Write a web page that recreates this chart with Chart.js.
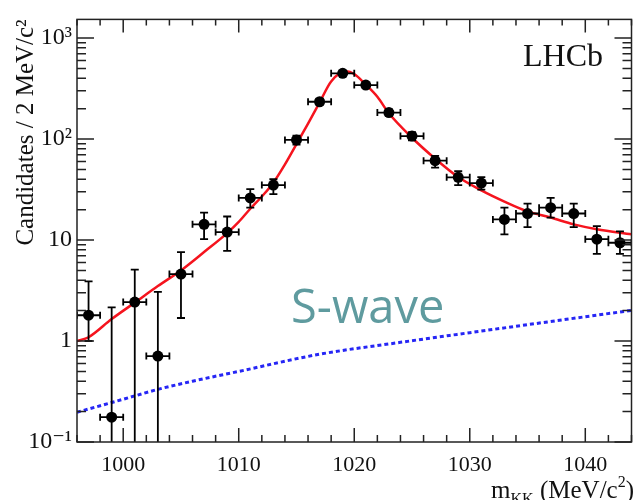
<!DOCTYPE html>
<html lang="en">
<head>
<meta charset="UTF-8">
<title>m_KK fit - LHCb</title>
<script src="https://cdn.jsdelivr.net/npm/chart.js"></script>
<style>
  html, body { margin: 0; padding: 0; background: #fff; }
  #wrap { width: 637px; height: 500px; }
</style>
</head>
<body>
<div id="wrap"><canvas id="mkkChart" width="637" height="500"></canvas></div>
<script>
// data points: bin centres (MeV/c^2), counts and error bar ends
const binCenters = [997, 999, 1001, 1003, 1005, 1007, 1009, 1011, 1013, 1015, 1017, 1019,
                    1021, 1023, 1025, 1027, 1029, 1031, 1033, 1035, 1037, 1039, 1041, 1043];
const counts     = [1.8, 0.176, 2.43, 0.71, 4.6, 14.3, 12.0, 26.1, 35, 98, 234, 447,
                    342, 183, 107, 61, 41.8, 36.6, 16, 18.3, 20.9, 18.3, 10.2, 9.4];
const countLow   = [1.0, 0.01, 0.01, 0.01, 1.69, 10.2, 7.8, 20.9, 28.5, 88, 219, 426,
                    324, 170, 97, 52, 35, 31.5, 11.4, 13.4, 16.7, 13.4, 7.3, 7.3];
const countHigh  = [3.9, 2.15, 5.1, 3.06, 7.6, 18.7, 17.1, 31.9, 40, 108, 249, 468,
                    360, 196, 117, 68, 48, 42, 20.9, 22.9, 26.1, 22.9, 13.7, 12.2];
const binHalfWidth = 1;

// total fit (red curve)
const fitMass  = [996, 997, 999, 1001, 1003, 1005, 1007, 1009, 1010, 1011, 1012, 1013, 1014,
                  1015, 1016, 1017, 1018, 1019.3, 1020, 1021, 1022, 1023, 1025, 1027, 1029,
                  1031, 1033, 1035, 1037, 1039, 1041, 1044];
const fitValue = [1.0, 1.09, 1.65, 2.4, 3.5, 5.0, 7.6, 11.7, 15.1, 20.4, 27, 37, 56,
                  89, 142, 230, 372, 468, 440, 345, 262, 180, 103, 64, 42,
                  31, 24, 19.2, 16.7, 14.3, 12.8, 11.4];

// S-wave component (blue dotted)
const swaveMass  = [996, 1000, 1003, 1006, 1010, 1017, 1024, 1030, 1037, 1044];
const swaveValue = [0.197, 0.265, 0.332, 0.40, 0.50, 0.74, 0.97, 1.21, 1.56, 2.01];

// axis ticks
const xTicks = [1000, 1010, 1020, 1030, 1040];
const yTicks = [0.1, 1, 10, 100, 1000];
const yTickLabels = ['10\u207B\u00B9', '1', '10', '10\u00B2', '10\u00B3'];

const serif = '"Liberation Serif", "DejaVu Serif", serif';

// error bars (vertical + horizontal with caps)
const errorBars = {
  id: 'errorBars',
  afterDatasetsDraw(chart) {
    const { ctx, chartArea: a, scales: { x, y } } = chart;
    ctx.save();
    ctx.beginPath();
    ctx.rect(a.left, a.top, a.right - a.left, a.bottom - a.top);
    ctx.clip();
    ctx.strokeStyle = '#000';
    ctx.lineWidth = 1.8;
    ctx.beginPath();
    binCenters.forEach((m, i) => {
      const px = x.getPixelForValue(m);
      const py = y.getPixelForValue(counts[i]);
      const yLo = y.getPixelForValue(countLow[i]);
      const yHi = y.getPixelForValue(countHigh[i]);
      const xL = x.getPixelForValue(m - binHalfWidth);
      const xR = x.getPixelForValue(m + binHalfWidth);
      ctx.moveTo(px, yLo); ctx.lineTo(px, yHi);
      ctx.moveTo(px - 4, yHi); ctx.lineTo(px + 4, yHi);
      ctx.moveTo(px - 4, yLo); ctx.lineTo(px + 4, yLo);
      ctx.moveTo(xL, py); ctx.lineTo(xR, py);
      ctx.moveTo(xL, py - 3.5); ctx.lineTo(xL, py + 3.5);
      ctx.moveTo(xR, py - 3.5); ctx.lineTo(xR, py + 3.5);
    });
    ctx.stroke();
    ctx.restore();
  }
};

// ROOT-style frame with inward ticks on all four sides
const frameTicks = {
  id: 'frameTicks',
  afterDraw(chart) {
    const { ctx, chartArea: a, scales: { x, y } } = chart;
    ctx.save();
    ctx.strokeStyle = '#222';
    ctx.lineWidth = 1.5;
    ctx.beginPath();
    for (let m = 996; m <= 1044; m += 2) {
      const px = x.getPixelForValue(m);
      const major = m % 10 === 0;
      ctx.moveTo(px, a.bottom); ctx.lineTo(px, a.bottom - (major ? 14 : 7));
      ctx.moveTo(px, a.top); ctx.lineTo(px, a.top + (major ? 13 : 6));
    }
    yTicks.forEach(d => {
      for (let k = 1; k <= 9; k++) {
        const v = k * d;
        if (v > y.max) break;
        const py = y.getPixelForValue(v);
        const len = k === 1 ? 17 : 9;
        ctx.moveTo(a.left, py); ctx.lineTo(a.left + len, py);
        ctx.moveTo(a.right, py); ctx.lineTo(a.right - len, py);
      }
    });
    ctx.stroke();
    ctx.strokeRect(a.left, a.top, a.right - a.left, a.bottom - a.top);
    ctx.restore();
  }
};

// text labels: LHCb, S-wave, x axis title with sub/superscript
const labels = {
  id: 'labels',
  afterDraw(chart) {
    const { ctx } = chart;
    ctx.save();
    ctx.textBaseline = 'alphabetic';
    ctx.textAlign = 'left';

    ctx.fillStyle = '#111';
    ctx.font = '32px ' + serif;
    ctx.fillText('LHCb', 523, 66);

    ctx.fillStyle = '#5f9b9f';
    ctx.font = '47px "Open Sans", sans-serif';
    ctx.fillText('S-wave', 291, 323);

    // m_KK (MeV/c^2), right aligned
    const parts = [
      { t: 'm', size: 25, dy: 0 },
      { t: 'KK', size: 16, dy: 6 },
      { t: ' (MeV/c', size: 25, dy: 0 },
      { t: '2', size: 16, dy: -11 },
      { t: ')', size: 25, dy: 0 }
    ];
    let total = 0;
    parts.forEach(p => { ctx.font = p.size + 'px ' + serif; p.w = ctx.measureText(p.t).width; total += p.w; });
    let cx = 634 - total;
    ctx.fillStyle = '#111';
    parts.forEach(p => {
      ctx.font = p.size + 'px ' + serif;
      ctx.fillText(p.t, cx, 498 + p.dy);
      cx += p.w;
    });
    ctx.restore();
  }
};

const toXY = (xs, ys) => xs.map((v, i) => ({ x: v, y: ys[i] }));

Chart.defaults.color = '#111';
Chart.defaults.font.family = serif;

new Chart(document.getElementById('mkkChart').getContext('2d'), {
  type: 'line',
  data: {
    datasets: [
      {
        label: 'data',
        data: toXY(binCenters, counts),
        showLine: false,
        pointRadius: 5.5,
        pointBackgroundColor: '#000',
        pointBorderColor: '#000',
        pointBorderWidth: 0,
        order: 1
      },
      {
        label: 'fit',
        data: toXY(fitMass, fitValue),
        borderColor: '#f5141e',
        borderWidth: 2.5,
        pointRadius: 0,
        cubicInterpolationMode: 'monotone',
        order: 2
      },
      {
        label: 'S-wave',
        data: toXY(swaveMass, swaveValue),
        borderColor: '#2626f5',
        borderWidth: 3,
        borderDash: [4, 3],
        pointRadius: 0,
        cubicInterpolationMode: 'monotone',
        order: 3
      }
    ]
  },
  options: {
    responsive: false,
    animation: false,
    layout: { padding: { left: 0, right: 2, top: 13, bottom: 0 } },
    plugins: { legend: { display: false }, tooltip: { enabled: false } },
    scales: {
      x: {
        type: 'linear',
        min: 996,
        max: 1044,
        grid: { display: false, drawTicks: false },
        border: { display: false },
        afterBuildTicks: s => { s.ticks = xTicks.map(v => ({ value: v })); },
        afterFit: s => { s.height = 58; },
        ticks: { padding: 10, font: { size: 22 }, color: '#111', callback: v => String(v) }
      },
      y: {
        type: 'logarithmic',
        min: 0.1,
        max: 1530,
        grid: { display: false, drawTicks: false },
        border: { display: false },
        afterBuildTicks: s => { s.ticks = yTicks.map(v => ({ value: v })); },
        afterFit: s => { s.width = 77; },
        ticks: {
          padding: 5,
          font: { size: 24 },
          color: '#111',
          callback: (v) => { const i = yTicks.indexOf(v); return i >= 0 ? yTickLabels[i] : ''; }
        },
        title: {
          display: true,
          text: 'Candidates / 2 MeV/c\u00B2',
          align: 'end',
          font: { size: 25 },
          color: '#111',
          padding: { top: 11, bottom: 0 }
        }
      }
    }
  },
  plugins: [errorBars, frameTicks, labels]
});
</script>
</body>
</html>
